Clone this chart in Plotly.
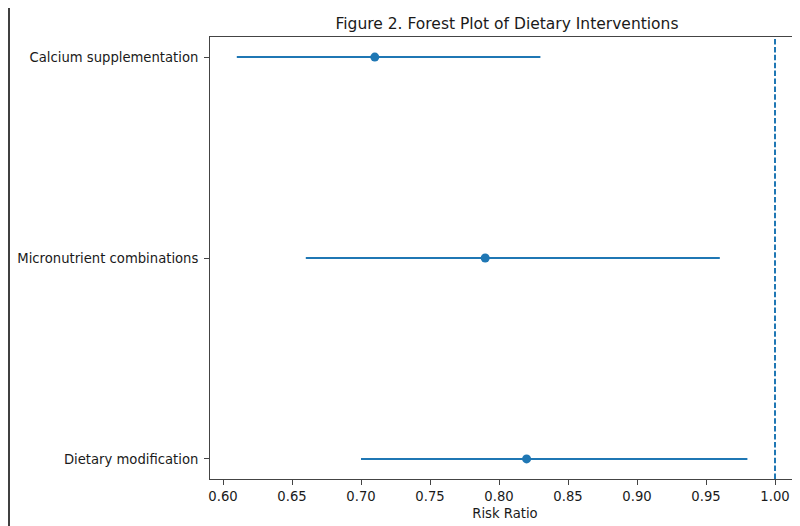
import plotly.graph_objects as go

# Data
categories = ["Dietary modification", "Micronutrient combinations", "Calcium supplementation"]
risk_ratio = [0.82, 0.79, 0.71]
ci_lower = [0.70, 0.66, 0.61]
ci_upper = [0.98, 0.96, 0.83]
null_value = 1.0
x_ticks = [0.60, 0.65, 0.70, 0.75, 0.80, 0.85, 0.90, 0.95, 1.00]

blue = "#1f77b4"
font_family = "DejaVu Sans, Verdana, sans-serif"

# The page body has an 8px margin, so the figure is sized/offset to compensate.
W, H = 792, 518
L, R, T, B = 202, 0, 29, 47
pw, ph = W - L - R, H - T - B

err_plus = [u - r for u, r in zip(ci_upper, risk_ratio)]
err_minus = [r - l for r, l in zip(risk_ratio, ci_lower)]

fig = go.Figure()
fig.add_trace(go.Scatter(
    x=risk_ratio, y=categories, mode="markers",
    marker=dict(color=blue, size=9, symbol="circle"),
    error_x=dict(type="data", array=err_plus, arrayminus=err_minus,
                 symmetric=False, color=blue, thickness=2, width=0),
    showlegend=False, hoverinfo="skip",
))

fig.add_shape(type="line", xref="x", yref="paper",
              x0=null_value, x1=null_value, y0=0, y1=1,
              line=dict(color=blue, width=2, dash="5.5px,2.4px"))

# stray vertical rule at the left edge of the image
fig.add_shape(type="line", xref="paper", yref="paper",
              x0=(1 - L) / pw, x1=(1 - L) / pw,
              y0=-B / ph, y1=(ph + T) / ph,
              line=dict(color="#000000", width=1.5))

fig.update_layout(
    width=W, height=H,
    margin=dict(l=L, r=R, t=T, b=B, pad=0),
    paper_bgcolor="white", plot_bgcolor="white",
    font=dict(family=font_family, size=13.2, color="#1a1a1a"),
    title=dict(text="Figure 2. Forest Plot of Dietary Interventions",
               x=(L + pw / 2 + 2) / W, xanchor="center", y=1 - 15.5 / H, yanchor="middle",
               font=dict(size=15.5, color="#1a1a1a")),
    xaxis=dict(
        range=[0.6 - 13 / 1380, 0.6 + 577 / 1380],
        tickvals=x_ticks, ticktext=[f"{v:.2f}" for v in x_ticks],
        showgrid=False, zeroline=False,
        showline=True, linecolor="#444444", linewidth=1, mirror=True,
        ticks="outside", ticklen=5, tickwidth=1, tickcolor="#444444",
        title=dict(text="Risk Ratio", standoff=5, font=dict(size=13.2)),
    ),
    yaxis=dict(
        type="category", categoryorder="array", categoryarray=categories,
        range=[-0.1, 2.1],
        showgrid=False, zeroline=False,
        showline=True, linecolor="#444444", linewidth=1, mirror=False,
        ticks="outside", ticklen=5, tickwidth=1, tickcolor="#444444",
        ticklabelstandoff=3,
    ),
)

fig.write_html("out.html")
